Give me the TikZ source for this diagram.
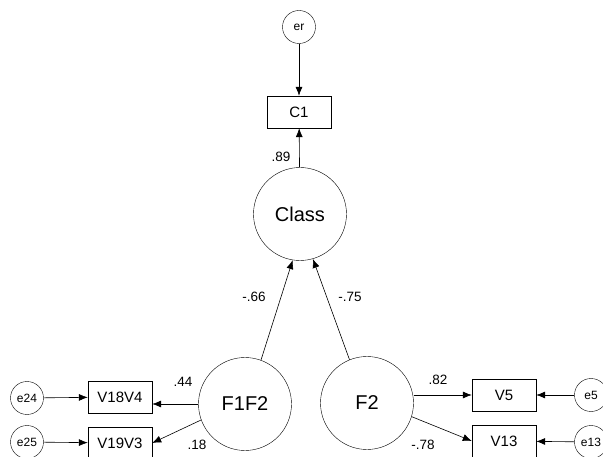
\documentclass[tikz,border=0pt]{standalone}
\usepackage{fontspec}
\setmainfont{Liberation Sans}
\usetikzlibrary{arrows.meta}
\begin{document}
\begin{tikzpicture}[x=1pt,y=-1pt,
  latent/.style={draw,circle,minimum size=93pt,inner sep=0pt,font=\fontsize{20}{22}\selectfont},
  errc/.style={draw,circle,minimum size=33pt,inner sep=0pt,font=\fontsize{12}{14}\selectfont},
  obs/.style={draw,rectangle,minimum width=64pt,minimum height=32pt,inner sep=0pt,font=\fontsize{15}{17}\selectfont},
  lbl/.style={font=\fontsize{13.5}{15}\selectfont,inner sep=0pt},
  arr/.style={-{Latex[length=9pt,width=7pt]},line width=0.6pt}]
\useasboundingbox (0,0) rectangle (603,457);
\clip (0,0) rectangle (603,457);
\node[errc] (er) at (299,27) {er};
\node[obs] (C1) at (299,112) {C1};
\node[latent] (Class) at (300,214) {Class};
\node[latent] (F1F2) at (245,404) {F1F2};
\node[latent] (F2) at (367,403) {F2};
\node[obs] (V18V4) at (120,397) {V18V4};
\node[obs] (V19V3) at (120,443) {V19V3};
\node[obs] (V5) at (504,395) {V5};
\node[obs] (V13) at (504,441) {V13};
\node[errc] (e24) at (27,398) {e24};
\node[errc] (e25) at (27,442) {e25};
\node[errc] (e5) at (591,395) {e5};
\node[errc] (e13) at (591,442) {e13};
\draw[arr] (er) -- (C1);
\draw[arr] (Class) -- (C1);
\draw[arr] (F1F2.70) -- (Class.261);
\draw[arr] (F2.112) -- (Class.286);
\draw[arr] (e24) -- (V18V4);
\draw[arr] (e25) -- (V19V3);
\draw[arr] (F1F2.west) -- (V18V4.east |- F1F2.west);
\draw[arr] (F1F2.200) -- (V19V3.east);
\draw[arr] (F2.east |- V5.west) -- (V5.west);
\draw[arr] (F2.-17) -- (V13.west);
\draw[arr] (e5) -- (V5);
\draw[arr] (e13) -- (V13);
\node[lbl] (l89) at (281,157) {.89};
\node[lbl] (l66) at (254,297) {-.66};
\node[lbl] (l75) at (350,297) {-.75};
\node[lbl] (l44) at (183,382) {.44};
\node[lbl] (l18) at (197,445) {.18};
\node[lbl] (l82) at (438,380) {.82};
\node[lbl] (l78) at (423,445) {-.78};
\end{tikzpicture}
\end{document}
